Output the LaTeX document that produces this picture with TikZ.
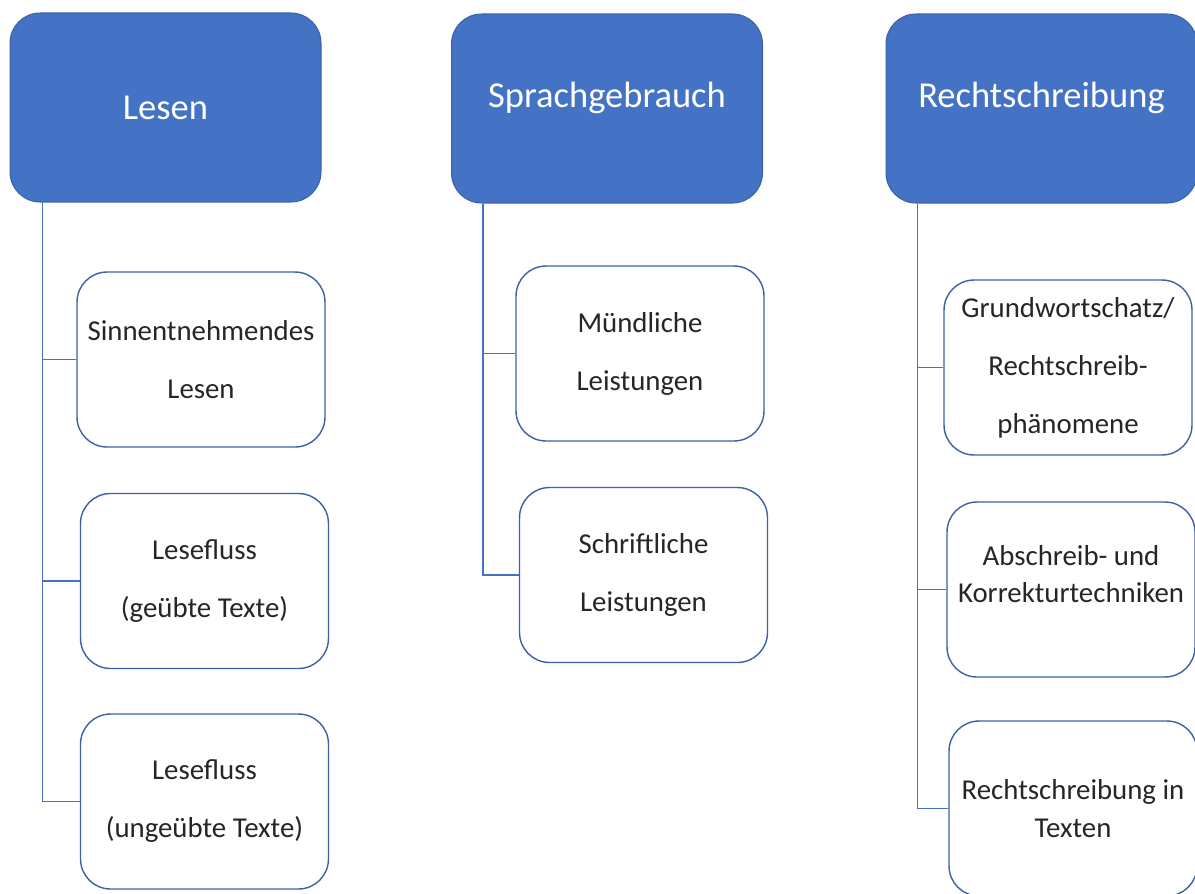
\documentclass[tikz,border=0pt]{standalone}
\usepackage{fontspec}
\setmainfont{Carlito}
\definecolor{headblue}{HTML}{4472C4}
\definecolor{headedge}{HTML}{3B62A6}
\definecolor{linkblue}{HTML}{4472C4}
\definecolor{itemtext}{HTML}{262626}
\tikzset{
  head/.style={draw=headedge, fill=headblue, rounded corners=0.6cm, minimum width=6.22cm,
    minimum height=3.78cm, text=white, font=\fontsize{20.8}{25}\selectfont, line width=0.6pt},
  item/.style={draw=headedge, fill=white, rounded corners=0.6cm, minimum width=4.96cm,
    minimum height=3.5cm, align=center, text=itemtext, font=\fontsize{16.4}{33}\selectfont, line width=0.8pt},
  tight/.style={font=\fontsize{16.4}{21.6}\selectfont},
  link/.style={draw=linkblue, line width=1pt}
}
\begin{document}
\begin{tikzpicture}[x=0.02cm,y=-0.02cm]
  \useasboundingbox (0,0) rectangle (1195,893);
  % Kopfzeile
  \node[head] (lesen) at (165.5,107.5) {Lesen};
  \node[head, text height=0.5cm, text depth=0.55cm] (sprach) at (607,108.5) {Sprachgebrauch};
  \node[head, text height=0.5cm, text depth=0.55cm] (recht) at (1041.5,108.5) {Rechtschreibung};
  % Lesen
  \node[item] (sinn) at (201,359.5) {Sinnentnehmendes\\Lesen};
  \node[item] (lfg) at (204.5,581) {Lesefluss\\(geübte Texte)};
  \node[item] (lfu) at (204.5,801.5) {Lesefluss\\(ungeübte Texte)};
  % Sprachgebrauch
  \node[item] (muend) at (640,353.5) {Mündliche\\Leistungen};
  \node[item] (schrift) at (643.5,575) {Schriftliche\\Leistungen};
  % Rechtschreibung
  \node[item] (grund) at (1068,367.5) {Grundwortschatz/\\Rechtschreib-\\phänomene};
  \node[item, tight, text depth=0.62cm] (absch) at (1071,589.5) {Abschreib- und\\Korrekturtechniken};
  \node[item, tight] (rsit) at (1073,808.5) {Rechtschreibung in\\Texten};
  % Verbindungen
  \foreach \c in {sinn,lfg,lfu}
    \draw[link] ([xshift=0.66cm]lesen.south west) |- (\c.west);
  \foreach \c in {muend,schrift}
    \draw[link] ([xshift=0.64cm]sprach.south west) |- (\c.west);
  \foreach \c in {grund,absch,rsit}
    \draw[link] ([xshift=0.64cm]recht.south west) |- (\c.west);
\end{tikzpicture}
\end{document}
